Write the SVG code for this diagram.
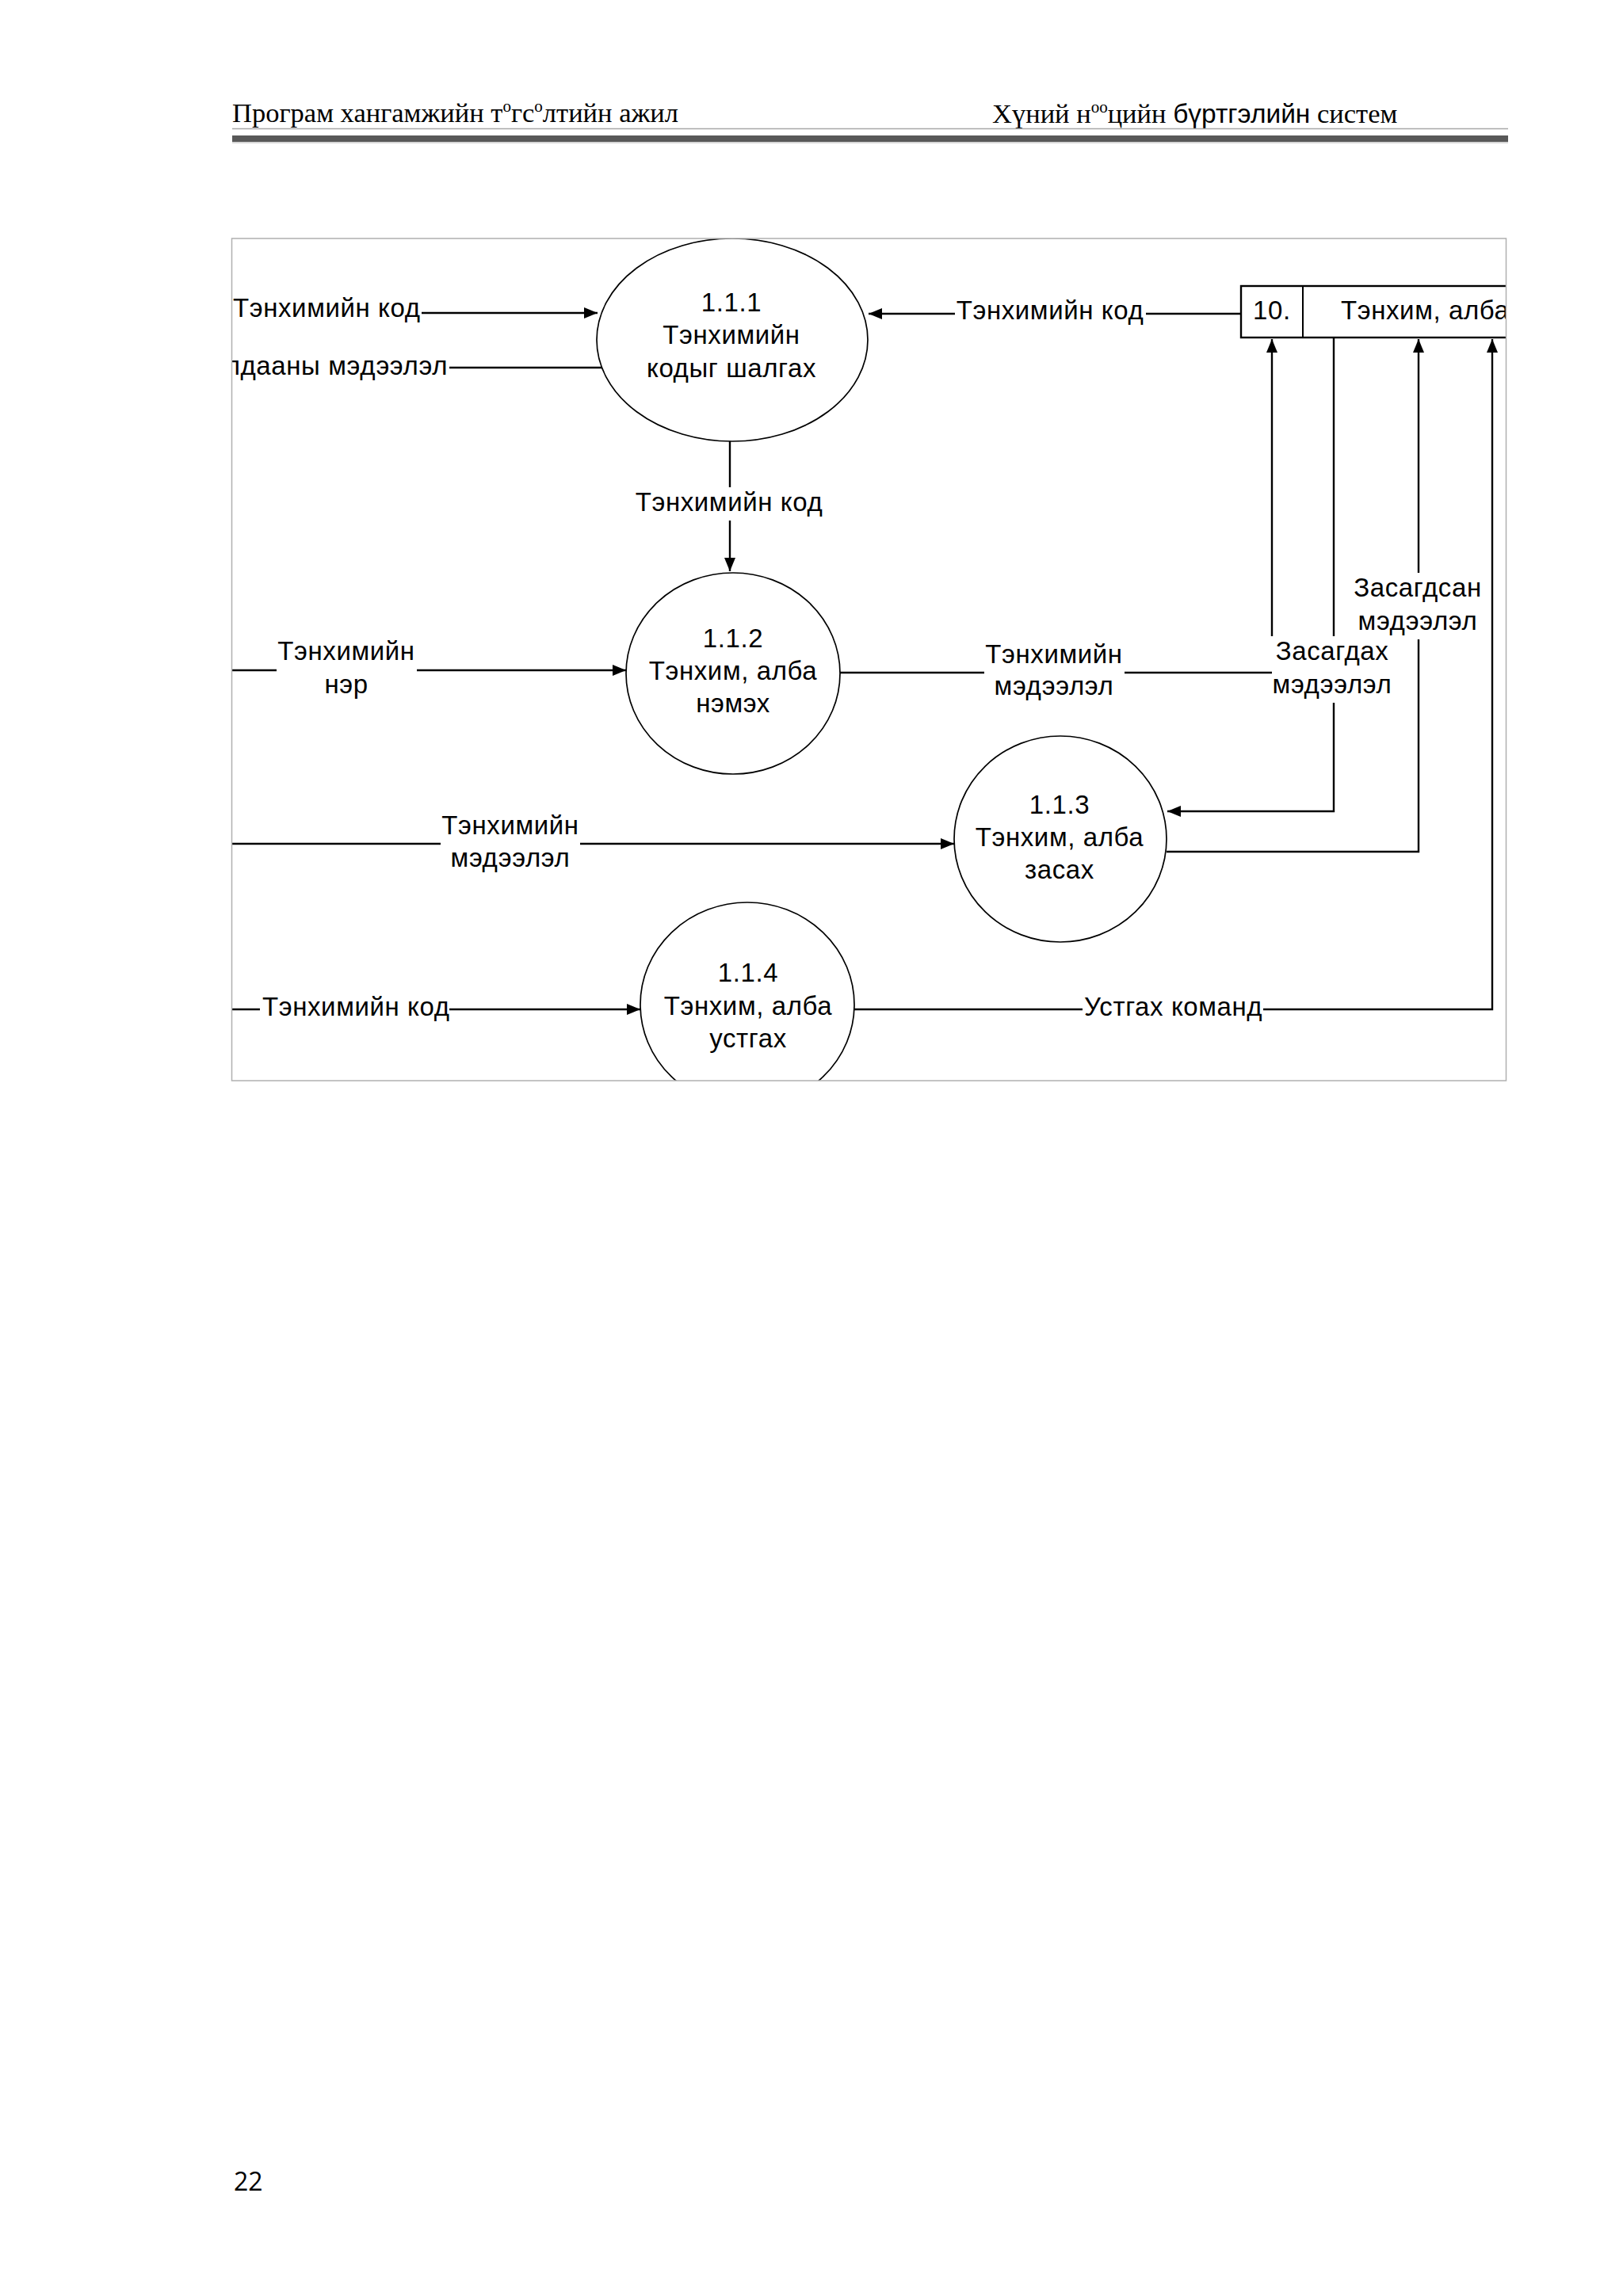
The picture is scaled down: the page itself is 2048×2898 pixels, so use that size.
<svg xmlns="http://www.w3.org/2000/svg" width="2048" height="2898" viewBox="0 0 2048 2898">
<style>
.hdr{font-family:"Liberation Serif","Times New Roman",serif;font-size:34.5px;fill:#000}
.hdrs{font-family:"Liberation Sans",Arial,sans-serif;font-size:33.5px;fill:#000}
.lbl{font-family:"Liberation Sans",Arial,sans-serif;font-size:33px;letter-spacing:0.6px;fill:#000}
.mid{text-anchor:middle}
.end{text-anchor:end}
.node{fill:#fff;stroke:#000;stroke-width:1.7}
.ln{fill:none;stroke:#000;stroke-width:2.4}
.arr{fill:none;stroke:#000;stroke-width:2.4;marker-end:url(#ah)}
.pg{font-family:"Open Sans","Liberation Sans",sans-serif;font-size:32px;fill:#000}
</style>
<defs>
<marker id="ah" markerUnits="userSpaceOnUse" markerWidth="20" markerHeight="16" refX="17" refY="8" orient="auto">
<path d="M0,1 L17,8 L0,15 Z" fill="#000"/>
</marker>
<clipPath id="frameclip"><rect x="293" y="301" width="1607" height="1063"/></clipPath>
</defs>
<rect x="0" y="0" width="2048" height="2898" fill="#fff"/>
<g id="header">
<text class="hdr" x="293" y="154">Програм хангамжийн т<tspan font-size="21" dy="-13">о</tspan><tspan dy="13">гс</tspan><tspan font-size="21" dy="-13">о</tspan><tspan dy="13">лтийн ажил</tspan></text>
<text class="hdr" x="1252" y="155">Хүний н<tspan font-size="21" dy="-13">оо</tspan><tspan dy="13">цийн </tspan><tspan class="hdrs">бүртгэлийн</tspan> систем</text>
<line x1="293" y1="162.5" x2="1903" y2="162.5" stroke="#a8a8a8" stroke-width="1.5"/>
<rect x="293" y="171" width="1610" height="8" fill="#585858"/>
<line x1="293" y1="180" x2="1903" y2="180" stroke="#c8c8c8" stroke-width="1.5"/>
</g>
<g id="diagram" clip-path="url(#frameclip)">
<g id="connectors">
<line class="arr" x1="532" y1="395" x2="754" y2="395"/>
<line class="ln" x1="567" y1="464" x2="762" y2="464"/>
<line class="ln" x1="1566" y1="396" x2="1446" y2="396"/>
<line class="arr" x1="1205" y1="396" x2="1096" y2="396"/>
<line class="ln" x1="921" y1="557" x2="921" y2="615"/>
<line class="arr" x1="921" y1="657" x2="921" y2="721"/>
<line class="ln" x1="293" y1="846" x2="349" y2="846"/>
<line class="arr" x1="526" y1="846" x2="790" y2="846"/>
<line class="ln" x1="1060" y1="849" x2="1242" y2="849"/>
<line class="ln" x1="1419" y1="849" x2="1605" y2="849"/>
<line class="arr" x1="1605" y1="803" x2="1605" y2="428"/>
<line class="ln" x1="1683" y1="426" x2="1683" y2="803"/>
<polyline class="arr" points="1683,887 1683,1024 1473,1024"/>
<polyline class="ln" points="1472,1075 1790,1075 1790,807"/>
<line class="arr" x1="1790" y1="723" x2="1790" y2="428"/>
<line class="ln" x1="293" y1="1065" x2="556" y2="1065"/>
<line class="arr" x1="732" y1="1065" x2="1204" y2="1065"/>
<line class="ln" x1="293" y1="1274" x2="328" y2="1274"/>
<line class="arr" x1="567" y1="1274" x2="808" y2="1274"/>
<line class="ln" x1="1078" y1="1274" x2="1366" y2="1274"/>
<polyline class="arr" points="1594,1274 1883,1274 1883,428"/>
<text class="lbl" x="294" y="400">Тэнхимийн код</text>
<text class="lbl end" x="565" y="473">Алдааны мэдээлэл</text>
<text class="lbl mid" x="1325" y="403">Тэнхимийн код</text>
<text class="lbl mid" x="920" y="645">Тэнхимийн код</text>
<text class="lbl mid" x="437" y="833">Тэнхимийн</text>
<text class="lbl mid" x="437" y="875">нэр</text>
<text class="lbl mid" x="1330" y="837">Тэнхимийн</text>
<text class="lbl mid" x="1330" y="877">мэдээлэл</text>
<text class="lbl mid" x="1681" y="833">Засагдах</text>
<text class="lbl mid" x="1681" y="875">мэдээлэл</text>
<text class="lbl mid" x="1789" y="753">Засагдсан</text>
<text class="lbl mid" x="1789" y="795">мэдээлэл</text>
<text class="lbl mid" x="644" y="1053">Тэнхимийн</text>
<text class="lbl mid" x="644" y="1094">мэдээлэл</text>
<text class="lbl" x="331" y="1282">Тэнхимийн код</text>
<text class="lbl" x="1368" y="1282">Устгах команд</text>
</g>
<g id="p111">
<ellipse class="node" cx="924" cy="429" rx="171" ry="128"/>
<text class="lbl mid" x="923" y="393">1.1.1</text>
<text class="lbl mid" x="923" y="434">Тэнхимийн</text>
<text class="lbl mid" x="923" y="476">кодыг шалгах</text>
</g>
<g id="p112">
<ellipse class="node" cx="925" cy="850" rx="135" ry="127"/>
<text class="lbl mid" x="925" y="817">1.1.2</text>
<text class="lbl mid" x="925" y="858">Тэнхим, алба</text>
<text class="lbl mid" x="925" y="899">нэмэх</text>
</g>
<g id="p113">
<ellipse class="node" cx="1338" cy="1059" rx="134" ry="130"/>
<text class="lbl mid" x="1337" y="1027">1.1.3</text>
<text class="lbl mid" x="1337" y="1068">Тэнхим, алба</text>
<text class="lbl mid" x="1337" y="1109">засах</text>
</g>
<g id="p114">
<ellipse class="node" cx="943" cy="1268" rx="135" ry="129"/>
<text class="lbl mid" x="944" y="1239">1.1.4</text>
<text class="lbl mid" x="944" y="1281">Тэнхим, алба</text>
<text class="lbl mid" x="944" y="1322">устгах</text>
</g>
<g id="store10">
<rect x="1566" y="361" width="400" height="65" fill="#fff" stroke="#000" stroke-width="2.4"/>
<line x1="1644" y1="361" x2="1644" y2="426" stroke="#000" stroke-width="2"/>
<text class="lbl" x="1581" y="403">10.</text>
<text class="lbl" x="1692" y="403">Тэнхим, алба</text>
</g>
</g>
<rect id="frame" x="292.5" y="301" width="1608" height="1063" fill="none" stroke="#b0b0b0" stroke-width="1.5"/>
<g id="footer">
<text class="pg" x="295" y="2765">22</text>
</g>
</svg>
